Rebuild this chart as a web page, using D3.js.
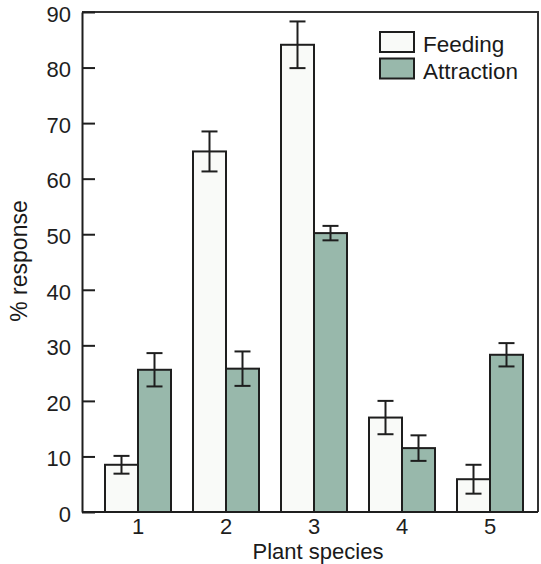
<!DOCTYPE html>
<html>
<head>
<meta charset="utf-8">
<script src="https://cdn.jsdelivr.net/npm/d3@7"></script>
<style>
  body { margin: 0; background: #fff; }
  svg text { font-family: "Liberation Sans", Arial, sans-serif; fill: #1a1a1a; }
</style>
</head>
<body>
<div id="chart"></div>
<script>
const species = ['1', '2', '3', '4', '5'];
const series = ['Feeding', 'Attraction'];
const feeding = [8.5, 64.9, 84.1, 17.0, 5.9];
const feedingErr = [1.6, 3.6, 4.2, 3.0, 2.6];
const attraction = [25.6, 25.8, 50.2, 11.5, 28.3];
const attractionErr = [3.0, 3.1, 1.3, 2.3, 2.1];
const yTicks = [0, 10, 20, 30, 40, 50, 60, 70, 80, 90];

const width = 541;
const height = 564;
const plotLeft = 82, plotRight = 538, plotTop = 12, plotBottom = 512;
const colors = { Feeding: '#f9faf8', Attraction: '#98b8ab' };
const ink = '#1e1e1e';

const svg = d3.select('#chart')
    .append('svg')
    .attr('width', width)
    .attr('height', height);

const y = d3.scaleLinear()
    .domain([0, 90])
    .range([plotBottom, plotTop]);

const x0 = d3.scaleBand()
    .domain(species)
    .range([94, 534])
    .paddingInner(0.25)
    .paddingOuter(0.125);

const x1 = d3.scaleBand()
    .domain(series)
    .range([0, x0.bandwidth()]);

// rows of data per bar
let bars = [];
species.forEach((s, i) => {
    bars.push({ sp: s, key: 'Feeding', v: feeding[i], e: feedingErr[i] });
    bars.push({ sp: s, key: 'Attraction', v: attraction[i], e: attractionErr[i] });
});

// bars
svg.append('g')
    .selectAll('rect')
    .data(bars)
    .enter()
    .append('rect')
    .attr('x', d => x0(d.sp) + x1(d.key))
    .attr('y', d => y(d.v))
    .attr('width', x1.bandwidth())
    .attr('height', d => y(0) - y(d.v))
    .attr('fill', d => colors[d.key])
    .attr('stroke', ink)
    .attr('stroke-width', 2);

// error bars
const capHalf = 8;
let err = svg.append('g')
    .attr('stroke', ink)
    .attr('stroke-width', 2);

bars.forEach(d => {
    let cx = x0(d.sp) + x1(d.key) + x1.bandwidth() / 2;
    err.append('line')
        .attr('x1', cx).attr('x2', cx)
        .attr('y1', y(d.v + d.e)).attr('y2', y(d.v - d.e));
    err.append('line')
        .attr('x1', cx - capHalf).attr('x2', cx + capHalf)
        .attr('y1', y(d.v + d.e)).attr('y2', y(d.v + d.e));
    err.append('line')
        .attr('x1', cx - capHalf).attr('x2', cx + capHalf)
        .attr('y1', y(d.v - d.e)).attr('y2', y(d.v - d.e));
});

// frame
svg.append('path')
    .attr('d', 'M' + plotRight + ',' + plotBottom + 'V' + plotTop + 'H' + plotLeft)
    .attr('fill', 'none')
    .attr('stroke', '#333')
    .attr('stroke-width', 2);

// y axis, inward ticks
let yAxis = d3.axisRight(y)
    .tickValues(yTicks)
    .tickSize(13)
    .tickSizeOuter(0)
    .tickFormat(d3.format('d'));

let gy = svg.append('g')
    .attr('transform', 'translate(' + plotLeft + ',0)')
    .call(yAxis);
gy.select('.domain').attr('stroke', ink).attr('stroke-width', 2);
gy.selectAll('.tick line').attr('stroke', ink).attr('stroke-width', 2);
gy.selectAll('.tick text')
    .attr('x', -11)
    .attr('dy', '0.42em')
    .attr('text-anchor', 'end')
    .style('font-size', '22px')
    .style('fill', ink);

// x axis
let xAxis = d3.axisBottom(x0)
    .tickSize(0)
    .tickSizeOuter(0)
    .tickPadding(6);

let gx = svg.append('g')
    .attr('transform', 'translate(0,' + plotBottom + ')')
    .call(xAxis);
gx.select('.domain')
    .attr('d', 'M' + plotLeft + ',0H' + plotRight)
    .attr('stroke', ink).attr('stroke-width', 2);
gx.selectAll('.tick text')
    .style('font-size', '22px')
    .style('fill', ink);

// axis titles
svg.append('text')
    .attr('transform', 'translate(27,261) rotate(-90)')
    .attr('text-anchor', 'middle')
    .style('font-size', '23px')
    .text('% response');

svg.append('text')
    .attr('x', 318)
    .attr('y', 559)
    .attr('text-anchor', 'middle')
    .style('font-size', '22px')
    .text('Plant species');

// legend
let legend = svg.append('g')
    .selectAll('g')
    .data(series)
    .enter()
    .append('g')
    .attr('transform', (d, i) => 'translate(380,' + (32 + i * 26.5) + ')');

legend.append('rect')
    .attr('width', 34)
    .attr('height', 20)
    .attr('fill', d => colors[d])
    .attr('stroke', ink)
    .attr('stroke-width', 2);

legend.append('text')
    .attr('x', 43)
    .attr('y', 20)
    .style('font-size', '22.5px')
    .text(d => d);
</script>
</body>
</html>
